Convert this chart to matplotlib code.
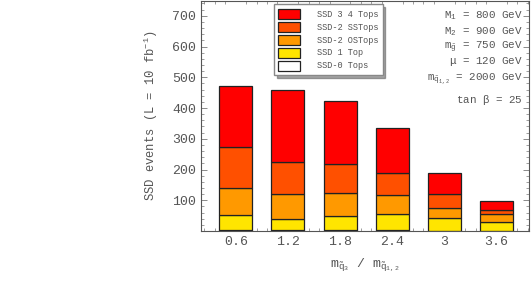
import matplotlib
matplotlib.use("Agg")
import matplotlib.pyplot as plt
from matplotlib.patches import Patch
from matplotlib.ticker import MultipleLocator
import numpy as np

plt.rcParams['font.family'] = ['Liberation Mono', 'DejaVu Sans']
plt.rcParams['mathtext.fontset'] = 'custom'
plt.rcParams['mathtext.rm'] = 'Liberation Mono'
plt.rcParams['mathtext.it'] = 'Liberation Mono'
plt.rcParams['mathtext.tt'] = 'Liberation Mono'

ratios = [0.6, 1.2, 1.8, 2.4, 3.0, 3.6]
tick_labels = ["0.6", "1.2", "1.8", "2.4", "3", "3.6"]
ssd0_tops = [2, 2, 2, 2, 1, 1]
ssd1_top = [51, 38, 46, 53, 42, 29]
ssd2_os = [87, 81, 75, 63, 32, 26]
ssd2_ss = [132, 104, 94, 71, 44, 13]
ssd34_tops = [201, 234, 205, 147, 69, 30]

series = [
    ("SSD-0 Tops", ssd0_tops, "#FFFFFF"),
    ("SSD 1 Top", ssd1_top, "#FFE500"),
    ("SSD-2 OSTops", ssd2_os, "#FF9900"),
    ("SSD-2 SSTops", ssd2_ss, "#FF5000"),
    ("SSD 3 4 Tops", ssd34_tops, "#FF0000"),
]

txt = "#555555"
fig = plt.figure(figsize=(5.32, 2.88), dpi=100)
ax = fig.add_axes([201/532, 1 - 231/288, 328/532, 230/288])

bottom = np.zeros(len(ratios))
for name, vals, col in series:
    ax.bar(ratios, vals, width=0.38, bottom=bottom, color=col,
           edgecolor="#222222", linewidth=0.9, zorder=2)
    bottom += np.array(vals)

ax.set_xlim(0.2, 3.975)
ax.set_ylim(0, 748)
ax.set_xticks(ratios)
ax.set_xticklabels(tick_labels)
ax.set_yticks([100, 200, 300, 400, 500, 600, 700])
ax.yaxis.set_minor_locator(MultipleLocator(20))
ax.xaxis.set_minor_locator(MultipleLocator(0.12))
ax.tick_params(which='both', direction='in', top=True, right=True,
               colors="#777777", labelcolor=txt, labelsize=9.5)
ax.tick_params(which='major', length=4, width=0.6)
ax.tick_params(which='minor', length=2, width=0.5)
ax.tick_params(axis='x', which='major', length=0)
for s in ax.spines.values():
    s.set_color("#555555")
    s.set_linewidth(0.8)

ax.set_ylabel(r"SSD events (L = 10 fb$^{-1}$)", fontsize=8.7, color=txt, labelpad=9)
ax.set_xlabel(r"m$_{\tilde{q}_3}$ / m$_{\tilde{q}_{1,2}}$", fontsize=9.5, color=txt, labelpad=6)

handles = [Patch(facecolor=col, edgecolor="#222222", linewidth=0.9, label=name)
           for name, vals, col in series[::-1]]
leg = ax.legend(handles=handles, loc='upper left', bbox_to_anchor=(0.222, 0.985),
                borderaxespad=0, fontsize=6.2, frameon=True, fancybox=False, shadow=True,
                edgecolor="#888888", framealpha=1, handlelength=2.5, handleheight=1.4,
                handletextpad=2.0, labelspacing=0.35, borderpad=0.5,
                labelcolor=txt)

params = [
    (r"M$_1$ = 800 GeV", 16),
    (r"M$_2$ = 900 GeV", 32),
    (r"m$_{\tilde{g}}$ = 750 GeV", 47),
    (r"$\mu$ = 120 GeV", 62),
    (r"m$_{\tilde{q}_{1,2}}$ = 2000 GeV", 79),
    (r"tan $\beta$ = 25", 100),
]
for s, ypx in params:
    ax.text((523 - 201) / 328, (231 - ypx) / 230, s, transform=ax.transAxes,
            ha='right', va='center', fontsize=7.8, color=txt)

fig.savefig("out.png", dpi=100)
